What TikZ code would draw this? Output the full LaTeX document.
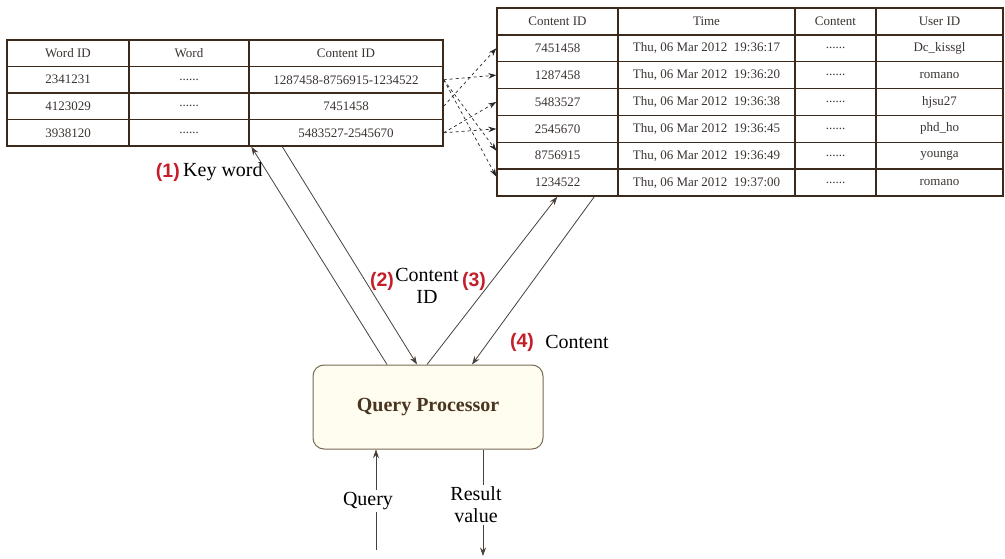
\documentclass[tikz,border=0pt]{standalone}
\usepackage{fontspec}
\setmainfont{Liberation Serif}
\setsansfont{Liberation Sans}
\usetikzlibrary{arrows.meta}
\definecolor{tb}{HTML}{3B2A1C}
\definecolor{tt}{HTML}{3A3330}
\definecolor{nred}{HTML}{C41E2A}
\definecolor{qfill}{HTML}{FFFDF0}
\definecolor{qdraw}{HTML}{7A6A55}
\definecolor{qtext}{HTML}{4A3520}
\definecolor{ln}{HTML}{4A4038}
\newcommand\sixdots{......}
\newcommand\tm[1]{Thu, 06 Mar 2012\ \ #1}
\begin{document}
\begin{tikzpicture}[x=1pt,y=-1pt,
  cell/.style={draw=tb, line width=1.4pt, inner sep=0pt, text=tt, font=\fontsize{13}{15}\selectfont},
  dsh/.style={draw=black!85, dashed, line width=0.7pt, -{Stealth[length=8pt,width=5.5pt]}},
  arr/.style={draw=ln, line width=0.8pt, -{Stealth[length=8.5pt,width=6pt]}},
  pl/.style={draw=ln, line width=0.8pt},
  lab/.style={font=\fontsize{20}{22}\selectfont, inner sep=2pt, align=center},
  num/.style={text=nred, font=\sffamily\bfseries\fontsize{19.5}{22}\selectfont, inner sep=1pt},
  qpbox/.style={draw=qdraw, fill=qfill, line width=1pt, rounded corners=11pt, minimum width=230pt, minimum height=84pt, text=qtext, font=\bfseries\fontsize{20}{22}\selectfont}
]
\useasboundingbox (0,0) rectangle (1005,559);
% left table
\foreach \r/\a/\b/\c in {0/Word ID/Word/Content ID,
  1/2341231/\sixdots/1287458-8756915-1234522,
  2/4123029/\sixdots/7451458,
  3/3938120/\sixdots/5483527-2545670}{
  \pgfmathsetmacro{\yy}{53.25+26.5*\r}
  \node[cell, minimum width=122pt, minimum height=26.5pt] (L-\r-1) at (68,\yy) {\a};
  \node[cell, minimum width=120pt, minimum height=26.5pt] (L-\r-2) at (189,\yy) {\b};
  \node[cell, minimum width=194pt, minimum height=26.5pt] (L-\r-3) at (346,\yy) {\c};
}
% right table
\foreach \r/\a/\b/\c/\d in {0/Content ID/Time/Content/User ID,
  1/7451458/\tm{19:36:17}/\sixdots/Dc\_kissgl,
  2/1287458/\tm{19:36:20}/\sixdots/romano,
  3/5483527/\tm{19:36:38}/\sixdots/hjsu27,
  4/2545670/\tm{19:36:45}/\sixdots/phd\_ho,
  5/8756915/\tm{19:36:49}/\sixdots/younga,
  6/1234522/\tm{19:37:00}/\sixdots/romano}{
  \pgfmathsetmacro{\yy}{21.43+26.86*\r}
  \node[cell, minimum width=121pt, minimum height=26.86pt] (R-\r-1) at (557.5,\yy) {\a};
  \node[cell, minimum width=177pt, minimum height=26.86pt] (R-\r-2) at (706.5,\yy) {\b};
  \node[cell, minimum width=81pt, minimum height=26.86pt] (R-\r-3) at (835.5,\yy) {\c};
  \node[cell, minimum width=127pt, minimum height=26.86pt] (R-\r-4) at (939.5,\yy) {\d};
}
% dashed links
\draw[dsh] (L-1-3.east) -- (R-2-1.west);
\draw[dsh] (L-1-3.east) -- ([yshift=5pt]R-5-1.west);
\draw[dsh] (L-1-3.east) -- ([yshift=6pt]R-6-1.west);
\draw[dsh] (L-2-3.east) -- (R-1-1.west);
\draw[dsh] (L-3-3.east) -- (R-3-1.west);
\draw[dsh] (L-3-3.east) -- (R-4-1.west);
% query processor
\node[qpbox] (qp) at (428,407) {Query Processor};
\draw[arr] ([xshift=-41pt]qp.north) -- ([xshift=3pt]L-3-3.south west);
\draw[arr] ([xshift=34pt]L-3-3.south west) -- ([xshift=-11pt]qp.north);
\draw[arr] ([xshift=-1pt]qp.north) -- ([xshift=61pt]R-6-1.south west);
\draw[arr] ([xshift=98pt]R-6-1.south west) -- ([xshift=44pt]qp.north);
% labels
\node[num, anchor=east] (n1) at (181,172) {(1)};
\node[lab, anchor=west, inner sep=0pt] (kw) at (183,172) {Key word};
\node[num] (n2) at (382,281) {(2)};
\node[lab] (cid) at (427,286) {Content\\ID};
\node[num] (n3) at (474,281) {(3)};
\node[num] (n4) at (522,342) {(4)};
\node[lab] (ct) at (577,342) {Content};
% query in / result out
\coordinate (qin) at (376,550);
\coordinate (rout) at (483,556);
\node[lab] (qlab) at (368,501) {Query};
\node[lab] (rlab) at (476,505) {Result\\value};
\draw[pl] (qin) -- (qin |- qlab.south);
\draw[arr] (qin |- qlab.north) -- (qin |- qp.south);
\draw[pl] (qp.south -| rout) -- (rlab.north -| rout);
\draw[arr] (rlab.south -| rout) -- (rout);
\end{tikzpicture}
\end{document}
